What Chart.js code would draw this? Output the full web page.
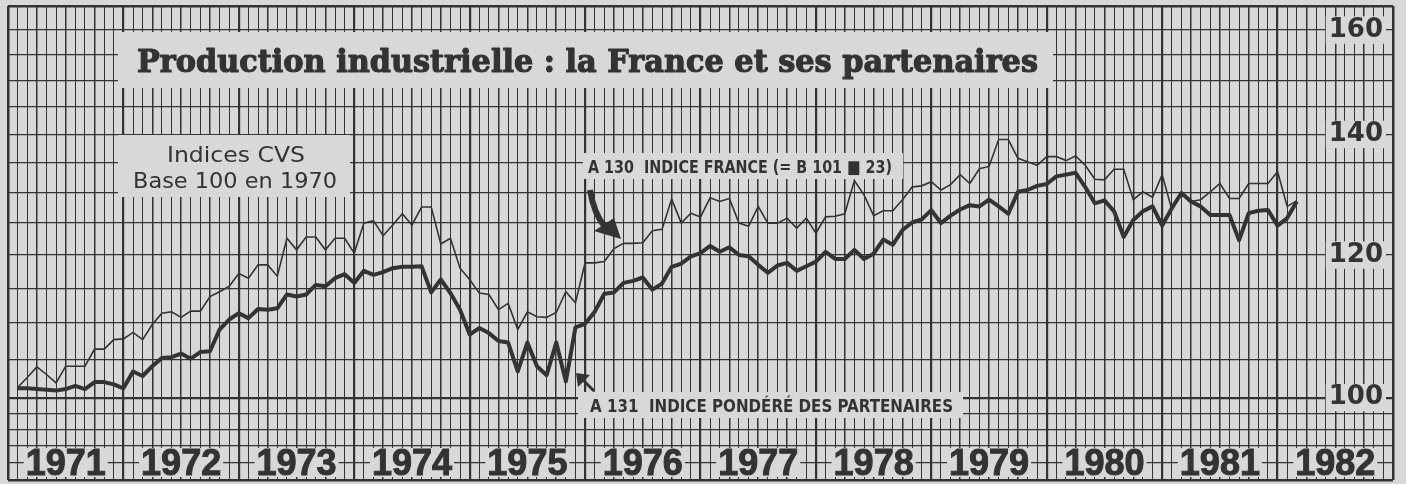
<!DOCTYPE html>
<html>
<head>
<meta charset="utf-8">
<script src="https://cdn.jsdelivr.net/npm/chart.js@4"></script>
<style>
  html, body { margin: 0; padding: 0; background: #d8d8d6; }
  canvas { display: block; }
</style>
</head>
<body>
<canvas id="prodChart" width="1406" height="484"></canvas>
<script>
// Indices CVS, base 100 en 1970, valeurs mensuelles janv. 1971 -> févr. 1982
const years = [1971, 1972, 1973, 1974, 1975, 1976, 1977, 1978, 1979, 1980, 1981, 1982];
const yLabels = [100, 120, 140, 160];
const yGrid = [90, 92, 94, 96, 98, 100, 105, 110, 115, 120, 125, 130, 135, 140, 145, 150, 155, 160, 165];

// A 130 indice France
const france = [
  101.3, 102.6, 104.0, 103.0, 101.9, 104.1, 104.1, 104.1, 106.4, 106.4, 107.7, 107.8,
  108.7, 107.7, 109.8, 111.4, 111.6, 110.8, 111.7, 111.7, 113.8, 114.5, 115.3, 117.2,
  116.5, 118.5, 118.5, 116.8, 122.6, 120.8, 122.8, 122.8, 120.8, 122.6, 122.6, 120.3,
  125.0, 125.4, 123.0, 124.7, 126.5, 124.7, 127.6, 127.6, 121.7, 122.6, 118.0, 116.3,
  114.3, 114.1, 111.9, 112.8, 109.1, 111.6, 110.9, 110.8, 111.5, 114.5, 112.9, 118.8,
  118.8, 119.0, 121.0, 121.8, 121.8, 121.9, 123.8, 124.0, 128.9, 125.0, 126.6, 126.0,
  129.1, 128.5, 129.0, 125.0, 124.5, 127.7, 125.0, 125.0, 125.8, 124.2, 125.8, 123.4,
  126.0, 126.1, 126.5, 132.0, 129.6, 126.2, 127.0, 127.0, 128.8, 130.9, 131.1, 131.8,
  130.4, 131.3, 133.0, 131.5, 134.0, 134.4, 139.1, 139.1, 135.8, 135.2, 134.6, 136.1,
  136.1, 135.4, 136.2, 134.6, 132.2, 132.1, 133.9, 133.9, 128.8, 130.1, 129.2, 133.0,
  127.2, 129.9, 128.5, 128.8, 130.1, 131.5, 129.0, 129.0, 131.5, 131.5, 131.5, 133.5,
  127.7, 128.6
];

// A 131 indice pondéré des partenaires
const partenaires = [
  101.2, 101.2, 101.1, 101.0, 100.9, 101.1, 101.5, 101.1, 102.0, 102.0, 101.7, 101.2,
  103.4, 102.8, 104.1, 105.2, 105.3, 105.8, 105.1, 106.0, 106.1, 109.1, 110.5, 111.4,
  110.7, 112.0, 111.9, 112.1, 114.1, 113.8, 114.1, 115.5, 115.3, 116.5, 117.1, 115.8,
  117.6, 117.0, 117.4, 118.0, 118.2, 118.2, 118.3, 114.4, 116.3, 114.3, 111.9, 108.4,
  109.3, 108.6, 107.5, 107.3, 103.4, 107.3, 104.1, 102.9, 107.3, 102.1, 109.4, 109.9,
  111.6, 114.2, 114.4, 115.8, 116.1, 116.6, 114.8, 115.7, 118.2, 118.7, 119.8, 120.3,
  121.4, 120.5, 121.2, 120.0, 119.8, 118.5, 117.3, 118.4, 118.8, 117.6, 118.3, 119.0,
  120.5, 119.4, 119.4, 120.8, 119.4, 120.2, 122.4, 121.6, 123.9, 125.1, 125.6, 127.1,
  125.0, 126.2, 127.2, 127.9, 127.7, 128.8, 127.7, 126.5, 130.1, 130.4, 131.1, 131.4,
  132.7, 133.0, 133.3, 130.9, 128.2, 128.7, 126.9, 122.8, 125.5, 126.9, 127.7, 124.6,
  127.4, 129.9, 128.5, 127.7, 126.3, 126.3, 126.3, 122.3, 126.6, 127.0, 127.1, 124.6,
  125.8, 128.5
];

const BG = "#d8d8d6";
const INK = "#333333";

// each month is plotted on the grid line that closes it
const toPoints = (arr) => arr.map((v, i) => ({ x: years[0] + (i + 1) / 12, y: v }));

const monthTicks = [];
for (let k = 0; k <= years.length * 12; k++) monthTicks.push(years[0] + k / 12);

function fitText(ctx, text, left, baseline, width, font, stroke) {
  ctx.save();
  ctx.font = font;
  const w = ctx.measureText(text).width;
  ctx.translate(left, baseline);
  ctx.scale(width / w, 1);
  ctx.textAlign = "left";
  ctx.textBaseline = "alphabetic";
  ctx.fillStyle = INK;
  ctx.fillText(text, 0, 0);
  if (stroke) {
    ctx.strokeStyle = INK;
    ctx.lineWidth = stroke;
    ctx.lineJoin = "round";
    ctx.strokeText(text, 0, 0);
  }
  ctx.restore();
}

function box(ctx, x0, y0, x1, y1) {
  ctx.fillStyle = BG;
  ctx.fillRect(x0, y0, x1 - x0, y1 - y0);
}

const decor = {
  id: "decor",
  beforeDatasetsDraw(chart) {
    const ctx = chart.ctx;
    const xs = chart.scales.x;
    ctx.save();
    // cartouches
    box(ctx, 118, 32, 1053, 88);
    box(ctx, 118, 135, 350, 197);
    box(ctx, 583, 153, 903, 179);
    box(ctx, 578, 392, 963, 418);

    // années
    ctx.font = 'bold 36px "Liberation Sans", Arial, sans-serif';
    years.forEach((yr) => {
      const cx = xs.getPixelForValue(yr + 0.5);
      const t = String(yr);
      const w = ctx.measureText(t).width;
      box(ctx, cx - w / 2 - 2, 448, cx + w / 2 + 2, 477);
      ctx.fillStyle = INK;
      ctx.strokeStyle = INK;
      ctx.lineWidth = 1;
      ctx.textAlign = "center";
      ctx.textBaseline = "alphabetic";
      ctx.fillText(t, cx, 475);
      ctx.strokeText(t, cx, 475);
    });
    ctx.restore();
  },
  afterDraw(chart) {
    const ctx = chart.ctx;
    ctx.save();
    fitText(ctx, "Production industrielle : la France et ses partenaires", 137, 72, 901,
      'bold 32px "DejaVu Serif", serif', 1.2);
    fitText(ctx, "Indices CVS", 167, 162, 138, '21px "DejaVu Sans", sans-serif');
    fitText(ctx, "Base 100 en 1970", 133, 188, 204, '21px "DejaVu Sans", sans-serif');
    fitText(ctx, "A 130  INDICE FRANCE (= B 101 \u25A0 23)", 588, 173, 304,
      'bold 18px "Liberation Sans Narrow", "DejaVu Sans Condensed", sans-serif');
    fitText(ctx, "A 131  INDICE PONDÉRÉ DES PARTENAIRES", 590, 412, 363,
      'bold 18px "Liberation Sans Narrow", "DejaVu Sans Condensed", sans-serif');

    // flèche France
    ctx.strokeStyle = INK;
    ctx.fillStyle = INK;
    ctx.lineWidth = 6;
    ctx.lineCap = "butt";
    ctx.beginPath();
    ctx.moveTo(590, 190);
    ctx.quadraticCurveTo(594, 214, 605, 227);
    ctx.stroke();
    ctx.beginPath();
    ctx.moveTo(621, 239);
    ctx.lineTo(594, 231);
    ctx.lineTo(614, 218);
    ctx.closePath();
    ctx.fill();

    // flèche partenaires
    ctx.lineWidth = 3;
    ctx.beginPath();
    ctx.moveTo(594, 391);
    ctx.lineTo(583, 380);
    ctx.stroke();
    ctx.beginPath();
    ctx.moveTo(576, 373);
    ctx.lineTo(578, 387);
    ctx.lineTo(590, 375);
    ctx.closePath();
    ctx.fill();
    ctx.restore();
  }
};

new Chart(document.getElementById("prodChart"), {
  type: "line",
  data: {
    datasets: [
      {
        label: "A 130 Indice France",
        data: toPoints(france),
        borderColor: INK,
        borderWidth: 1.6,
        pointRadius: 0,
        tension: 0,
      },
      {
        label: "A 131 Indice pondéré des partenaires",
        data: toPoints(partenaires),
        borderColor: "#333",
        borderWidth: 4,
        borderJoinStyle: "round",
        pointRadius: 0,
        tension: 0,
      },
    ],
  },
  options: {
    responsive: false,
    animation: false,
    events: [],
    layout: { padding: { left: 8, right: 13, top: 6, bottom: 4 } },
    plugins: { legend: { display: false }, tooltip: { enabled: false } },
    scales: {
      x: {
        type: "linear",
        min: years[0],
        max: years[years.length - 1] + 1,
        afterBuildTicks: (scale) => {
          scale.ticks = monthTicks.map((v) => ({ value: v }));
        },
        ticks: { display: false, autoSkip: false },
        border: { display: false },
        grid: {
          drawTicks: false,
          color: INK,
          lineWidth: (c) => {
            const k = Math.round((c.tick.value - years[0]) * 12);
            if (k === 0 || k === years.length * 12) return 2.5;
            if (k % 12 === 0) return 2.2;
            if (k % 3 === 0) return 1.5;
            return 1;
          },
        },
      },
      y: {
        type: "logarithmic",
        position: "right",
        min: 90,
        max: 165,
        afterBuildTicks: (scale) => {
          scale.ticks = yGrid.map((v) => ({ value: v }));
        },
        afterFit: (scale) => {
          scale.paddingTop = 0;
          scale.paddingBottom = 0;
        },
        border: { display: false },
        grid: {
          drawTicks: false,
          color: INK,
          lineWidth: (c) => {
            const v = c.tick.value;
            if (v === 90 || v === 165) return 2.5;
            if (v === 100) return 2.2;
            return 1.3;
          },
        },
        ticks: {
          autoSkip: false,
          mirror: true,
          padding: -10,
          z: 1,
          color: INK,
          font: { family: '"DejaVu Sans", sans-serif', size: 26, weight: "bold", lineHeight: 0.9 },
          callback: (v) => (yLabels.includes(v) ? String(v) : ""),
          showLabelBackdrop: (c) => yLabels.includes(c.tick.value),
          backdropColor: BG,
          backdropPadding: { left: 3, right: 3, top: 2, bottom: 2 },
        },
      },
    },
  },
  plugins: [decor],
});
</script>
</body>
</html>
